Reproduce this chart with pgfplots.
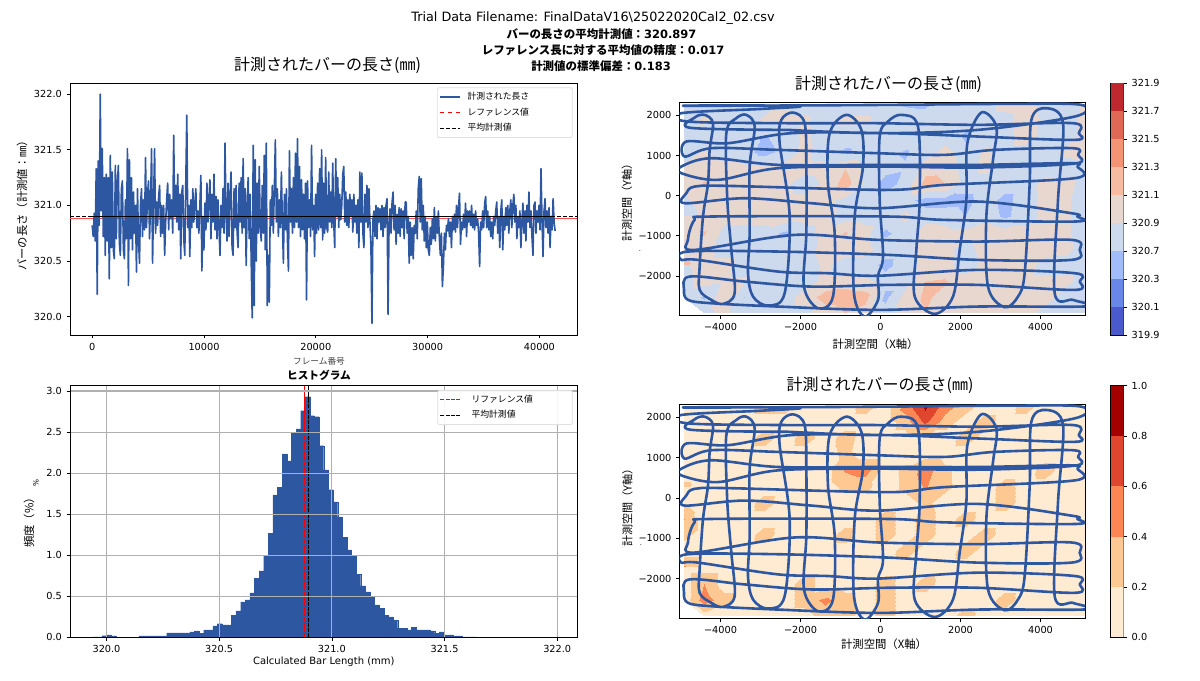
\documentclass[border=0pt]{standalone}
\usepackage{fontspec}
\setmainfont{DejaVu Sans}
\newfontfamily\jp{Noto Sans CJK JP}
\usepackage{pgfplots}
\pgfplotsset{compat=1.18}
\definecolor{barblue}{HTML}{2E57A2}
\definecolor{gridg}{HTML}{B0B0B0}
\pgfplotsset{
  colormap={cw}{rgb255=(74,90,205) rgb255=(105,135,232) rgb255=(162,187,250) rgb255=(205,217,236) rgb255=(232,215,207) rgb255=(246,187,160) rgb255=(244,148,117) rgb255=(224,105,85) rgb255=(192,40,47)},
  colormap={orrd}{rgb255=(254,235,210) rgb255=(253,200,145) rgb255=(252,135,85) rgb255=(224,70,45) rgb255=(165,0,0)},
  base/.style={
    scale only axis, anchor=south west,
    tick align=outside, major tick length=2.6pt,
    tick style={black,line width=.5pt},
    axis line style={line width=.7pt},
    ticklabel style={font=\fontsize{7.3}{8}\selectfont},
    /pgf/number format/assume math mode=true,
    scaled ticks=false,
    /pgf/number format/1000 sep={},
    xtick pos=bottom, ytick pos=left,
    clip=true,
  },
  leg/.style={
    legend cell align=left,
    legend image code/.code={\draw[##1] (0pt,0pt) -- (15pt,0pt);},
    legend style={font=\fontsize{6.6}{7}\selectfont\jp, draw=black!12, rounded corners=1pt,
      fill=white, fill opacity=.9, text opacity=1, at={(rel axis cs:0.9905,0.983)}, anchor=north east,
      row sep=.6pt, inner sep=1.5pt, line width=.6pt},
  },
  heat/.style={
    base, width=304.3pt,
    xmin=-5022, xmax=5120, ymin=-2982, ymax=2319,
    xtick={-4000,-2000,0,2000,4000}, xticklabels={−4000,−2000,0,2000,4000},
    ytick={-2000,-1000,0,1000,2000}, yticklabels={−2000,−1000,0,1000,2000},
  },
  cbar/.style={
    scale only axis, anchor=south west, width=9.75pt,
    xmin=0, xmax=1, ymin=0, xtick=\empty, ytick pos=right, yticklabel pos=right,
    tick align=outside, major tick length=2.6pt, tick style={black,line width=.5pt},
    axis line style={line width=.6pt},
    ticklabel style={font=\fontsize{7.3}{8}\selectfont},
    /pgf/number format/assume math mode=true,
  },
  traj/.style={barblue, line width=1.95pt, smooth, tension=.55, line join=round},
}
% measured path of the wand in the capture volume
\newcommand{\trajpath}{
(-2312,1639)(-4750,1690)(-4640,1950)(-4396,2013)(-4188,1805)(-4271,1140)(-4312,309)(-4437,-522)(-4521,-1768)(-4521,-2350)(-4229,-2599)(-3937,-2699)(-3646,-2433)(-3729,-1353)(-3829,-106)(-3854,1556)(-3604,1930)(-3354,2013)(-3146,1722)(-3271,725)(-3271,-937)(-3312,-1934)(-3187,-2516)(-2812,-2740)(-2396,-2433)(-2271,-522)(-2521,1307)(-2479,1888)(-2187,2071)(-1896,1805)(-1854,725)(-1854,-937)(-1913,-2267)(-1563,-2807)(-1188,-2516)(-1146,-937)(-1313,309)(-1271,1556)(-854,2013)(-479,1639)(-438,725)(-646,-522)(-663,-2433)(-396,-3015)(-62,-2599)(-62,-1997)(63,-1519)(-21,-106)(-21,1473)(187,1847)(521,2013)(937,1722)(979,-106)(896,-1353)(854,-2516)(1354,-2948)(1812,-2516)(1979,-1353)(2146,-106)(2171,1307)(2521,2071)(2896,1722)(2812,891)(2646,-522)(2687,-2267)(3104,-2782)(3437,-2516)(3604,-1934)(3729,309)(3771,1888)(4146,2179)(4563,1805)(4437,-106)(4354,-2433)(4812,-2599)(5150,-2760)
(2437,-2765)(-62,-2848)(-2563,-2765)(-4229,-2682)(-4812,-2599)(-4912,-2350)(-4771,-2017)(-3396,-2142)(-1729,-2267)(188,-2225)(2437,-2225)(4854,-2350)(4979,-2142)(4854,-1934)
(2437,-1851)(-62,-1997)(-1313,-1934)(-2563,-1893)(-4562,-1602)(-4979,-1602)(-4812,-1394)(-2563,-1394)(188,-1477)(2437,-1602)(4771,-1602)(4979,-1353)(4771,-1103)
(2437,-1145)(-62,-1103)(-2146,-979)(-4646,-1353)(-4812,-1103)(-4646,-605)(-4229,-521)(188,-521)(1604,-605)(4854,-646)(4921,-521)(4771,-438)(2437,-148)(-62,-314)(-1729,-189)(-3396,-65)(-4896,-189)(-4854,60)(-4646,226)(-3812,243)(188,143)(1604,268)(4854,434)(4921,725)(4771,808)(2437,767)(-62,767)(-2563,767)(-4229,933)(-4979,725)(-4979,559)(-4062,393)(-2563,683)(-62,725)(2437,700)(4854,800)(4937,1016)(4812,1182)(2854,1140)(1604,1016)(-62,1057)(-2563,1140)(-4229,1182)(-4896,974)(-4854,1348)(-3812,1307)(-2229,1556)(188,1556)(2437,1473)(4854,1390)(4954,1556)(4812,1805)(2437,1764)(-62,1805)(-2312,1805)(-4812,1847)(-4979,2055)(-3000,2160)(-2000,2225)(-3500,2250)(-4938,2240)(-2563,2245)(188,2262)(3271,2287)(5021,2262)(4854,1971)(2437,1639)(-62,1556)(-2312,1639)
}
\begin{document}
\begin{tikzpicture}
\path[use as bounding box] (0,0) rectangle (900pt,510.75pt);

% frame series
\begin{axis}[base, at={(52.5pt,259.5pt)}, width=380.6pt, height=189pt,
  xmin=-1985, xmax=43400, ymin=319.835, ymax=322.1,
  xtick={0,10000,20000,30000,40000},
  ytick={320,320.5,321,321.5,322},
  yticklabel style={/pgf/number format/fixed, /pgf/number format/precision=1, /pgf/number format/fixed zerofill},
  leg]
\addplot[red!70!white, line width=.5pt, forget plot] coordinates {(-1985,320.88)(43400,320.88)};
\addplot[barblue, line width=1.2pt, line join=round] table[row sep=\\, header=false, x expr=\coordindex*90, y index=0]{
320.82\\320.72\\320.93\\320.68\\321.33\\320.20\\321.40\\320.82\\322.00\\320.95\\321.51\\320.72\\321.25\\320.55\\321.28\\320.68\\321.25\\320.34\\321.45\\320.62\\
321.30\\320.60\\320.52\\321.36\\320.70\\321.20\\321.36\\320.66\\320.55\\321.15\\321.22\\320.60\\320.52\\321.05\\320.70\\321.51\\320.28\\321.41\\320.70\\321.25\\
320.60\\321.12\\320.75\\321.00\\320.40\\321.15\\320.70\\320.48\\321.00\\321.15\\320.72\\321.05\\320.78\\321.43\\320.80\\321.10\\321.22\\320.70\\321.02\\321.51\\
320.48\\321.05\\321.51\\320.75\\321.03\\320.82\\321.08\\321.18\\320.72\\321.00\\320.75\\321.00\\320.55\\320.85\\321.05\\321.20\\320.78\\321.10\\320.88\\321.05\\
320.75\\321.63\\320.90\\321.18\\320.85\\321.28\\320.78\\321.10\\320.52\\321.12\\321.18\\320.70\\320.55\\321.20\\321.81\\320.80\\321.00\\320.54\\321.05\\320.80\\
321.15\\320.85\\321.02\\321.15\\320.80\\320.95\\320.75\\321.00\\321.27\\320.41\\320.90\\320.60\\321.02\\320.78\\321.20\\320.85\\321.05\\321.23\\320.70\\321.10\\
320.85\\321.28\\320.78\\321.08\\320.70\\321.05\\320.80\\320.55\\321.00\\320.80\\321.15\\320.75\\321.56\\320.90\\320.68\\321.20\\320.72\\321.10\\321.30\\320.62\\
320.55\\321.15\\320.80\\321.18\\320.75\\320.62\\321.20\\320.85\\321.25\\320.75\\321.42\\320.80\\321.15\\320.46\\321.00\\321.25\\320.70\\321.10\\320.50\\319.99\\
321.54\\320.10\\321.41\\320.50\\321.20\\320.75\\321.35\\320.80\\320.68\\321.18\\320.75\\321.45\\320.60\\321.56\\320.10\\320.55\\320.13\\321.05\\320.82\\321.18\\
320.75\\321.15\\321.59\\320.85\\321.15\\320.72\\321.05\\320.80\\321.30\\320.85\\320.48\\321.10\\320.78\\321.15\\320.70\\320.41\\321.49\\320.85\\321.15\\320.75\\
321.25\\320.80\\321.47\\320.85\\321.60\\320.80\\321.35\\320.72\\321.23\\320.78\\321.10\\320.70\\321.20\\320.15\\321.22\\320.80\\321.05\\320.72\\321.54\\320.78\\
321.00\\320.54\\321.10\\320.75\\321.20\\320.78\\321.33\\320.80\\321.50\\320.69\\321.20\\320.75\\321.43\\320.80\\320.76\\321.30\\320.85\\321.12\\320.80\\321.38\\
320.85\\320.62\\321.42\\320.90\\321.25\\320.80\\321.10\\320.87\\321.00\\321.28\\321.35\\320.85\\321.12\\320.82\\321.05\\320.80\\321.10\\320.90\\321.05\\320.76\\
321.10\\320.85\\321.00\\320.75\\321.05\\320.62\\321.30\\320.85\\321.29\\320.75\\320.62\\321.10\\320.85\\321.18\\320.80\\321.15\\320.85\\320.62\\319.94\\320.88\\
320.95\\320.72\\321.00\\320.70\\320.98\\320.85\\320.97\\320.78\\321.00\\320.72\\320.98\\320.80\\321.00\\321.06\\320.02\\320.82\\320.97\\320.75\\321.03\\321.12\\
320.78\\321.00\\320.65\\320.92\\320.75\\320.98\\320.72\\320.97\\320.80\\320.95\\320.70\\321.03\\321.03\\320.75\\320.90\\320.48\\320.85\\320.55\\320.80\\320.52\\
320.82\\320.75\\320.95\\320.70\\321.15\\321.26\\320.85\\321.24\\320.78\\321.00\\320.68\\320.90\\320.62\\320.85\\320.60\\320.55\\320.80\\320.65\\320.88\\320.70\\
320.98\\320.68\\320.90\\320.75\\320.95\\320.70\\320.55\\320.75\\320.27\\320.45\\320.75\\320.60\\320.82\\320.77\\320.88\\320.72\\320.85\\320.62\\320.90\\320.78\\
320.92\\320.76\\321.00\\320.80\\320.98\\321.11\\320.65\\320.85\\320.78\\320.92\\320.80\\321.02\\320.72\\320.95\\320.85\\320.95\\320.82\\321.00\\320.80\\320.92\\
320.78\\320.95\\320.82\\320.88\\320.75\\320.45\\320.85\\320.78\\320.95\\320.80\\321.02\\321.08\\320.80\\320.95\\320.78\\320.90\\320.72\\320.85\\320.70\\320.90\\
320.82\\320.95\\321.03\\320.75\\320.90\\320.62\\320.95\\321.05\\320.60\\320.90\\320.78\\320.98\\320.82\\321.00\\320.75\\320.95\\321.05\\320.80\\321.00\\321.10\\
320.85\\321.00\\320.70\\320.90\\320.80\\320.95\\320.62\\320.85\\321.02\\320.75\\320.95\\320.68\\321.00\\320.85\\321.12\\320.80\\320.95\\320.72\\320.55\\321.00\\
321.03\\320.75\\320.95\\320.85\\321.00\\320.78\\321.33\\320.85\\320.54\\320.95\\321.06\\320.80\\320.95\\320.75\\320.98\\320.62\\320.90\\320.78\\321.06\\320.85\\320.77\\
};
\addlegendentry{\makebox[78pt][l]{\hspace{3pt}計測された長さ}}
\addlegendimage{red, dashed, line width=.7pt}
\addlegendentry{\makebox[78pt][l]{\hspace{3pt}レファレンス値}}
\addplot[black, line width=.7pt, forget plot] coordinates {(0,320.897)(41400,320.897)};
\addplot[black, dash pattern=on 3pt off 1.4pt, line width=.7pt] coordinates {(-1985,320.897)(43400,320.897)};
\addlegendentry{\makebox[78pt][l]{\hspace{3pt}平均計測値}}
\end{axis}

% histogram
\begin{axis}[base, at={(52.5pt,32.8pt)}, width=380.6pt, height=188.7pt,
  xmin=319.838, xmax=322.09, ymin=0, ymax=3.065,
  xtick={320,320.5,321,321.5,322}, ytick={0,0.5,1,1.5,2,2.5,3},
  ticklabel style={/pgf/number format/fixed, /pgf/number format/precision=1, /pgf/number format/fixed zerofill},
  grid=major, grid style={gridg, line width=.8pt},
  axis on top, leg, legend style={at={(rel axis cs:0.9905,0.983)}}]
\addplot[ybar interval, fill=barblue, draw=barblue, line width=.1pt, forget plot] coordinates {
(319.939,.004)(319.9595,.004)(319.980,.02)(320.0005,.03)(320.021,.018)(320.0415,.003)(320.062,.003)(320.0825,.003)(320.103,.003)(320.1235,.003)
(320.144,.016)(320.1645,.016)(320.185,.016)(320.2055,.016)(320.226,.016)(320.2465,.016)(320.267,.053)(320.2875,.053)(320.308,.053)(320.3285,.053)
(320.349,.053)(320.3695,.065)(320.390,.077)(320.4105,.05)(320.431,.09)(320.4515,.09)(320.472,.14)(320.4925,.165)(320.513,.15)(320.5335,.15)
(320.554,.27)(320.5745,.32)(320.595,.43)(320.6155,.455)(320.636,.54)(320.6565,.72)(320.677,.81)(320.6975,.99)(320.718,1.27)(320.7385,1.735)
(320.759,1.83)(320.7795,2.235)(320.800,2.15)(320.8205,2.5)(320.841,2.54)(320.8615,2.76)(320.882,2.93)(320.9025,2.70)(320.923,2.687)(320.9435,2.333)
(320.964,2.04)(320.9845,1.797)(321.005,1.65)(321.0255,1.467)(321.046,1.22)(321.0665,1.065)(321.087,.99)(321.1075,.77)(321.128,.626)(321.1485,.553)
(321.169,.5)(321.1895,.394)(321.210,.354)(321.2305,.27)(321.251,.248)(321.2715,.207)(321.292,.11)(321.3125,.11)(321.333,.09)(321.3535,.12)
(321.374,.09)(321.3945,.09)(321.415,.09)(321.4355,.077)(321.456,.05)(321.4765,.065)(321.497,.028)(321.5175,.028)(321.538,.016)(321.5585,.016)
(321.579,.005)(321.5995,.005)(321.620,.005)(321.6405,.002)(321.661,.002)(321.6815,.002)(321.702,.002)(321.7225,.002)(321.743,.002)(321.7635,.002)
(321.784,.002)(321.8045,.002)(321.825,.002)(321.8455,.002)(321.866,.002)(321.8865,.002)(321.907,.002)(321.9275,.002)(321.948,.002)(321.9685,.002)
(321.989,.002)(322.0095,.002)
};
\addplot[red, line width=.8pt, forget plot] coordinates {(320.88,2.5)(320.88,3.065)};
\addplot[red, dash pattern=on 3pt off .9pt, line width=.8pt] coordinates {(320.88,0)(320.88,2.5)};
\addlegendentry{\makebox[78pt][l]{\hspace{6pt}リファレンス値}}
\addplot[black, line width=.8pt, forget plot] coordinates {(320.897,2.9)(320.897,3.065)};
\addplot[black, dash pattern=on 3pt off .9pt, line width=.8pt] coordinates {(320.897,0)(320.897,2.9)};
\addlegendentry{\makebox[78pt][l]{\hspace{6pt}平均計測値}}
\end{axis}

% length map
\begin{axis}[heat, at={(509.7pt,274.3pt)}, height=159.5pt, point meta min=0, point meta max=9, colormap name=cw]
\addplot[surf, shader=interp, colormap access=piecewise constant, mesh/cols=21, point meta=\thisrowno{0}]
 table[row sep=\\, header=false, x expr={-4900+500*mod(\coordindex,21)}, y expr={2280-400*floor(\coordindex/21)}]{
3.5\\3.5\\3.5\\3.5\\3.5\\4.2\\3.5\\3.5\\3.5\\3.5\\3.5\\2.9\\2.8\\3.5\\3.5\\3.5\\4.5\\4.7\\3.5\\3.5\\4.2\\
3.5\\4.2\\3.5\\3.5\\4.2\\4.2\\4.2\\3.5\\4.3\\4.2\\3.5\\3.5\\3.5\\3.5\\3.5\\3.5\\3.5\\4.8\\3.6\\3.5\\4.4\\
3.5\\3.5\\3.5\\3.5\\2.9\\3.5\\4.2\\3.5\\3.5\\3.5\\3.5\\3.5\\3.5\\3.5\\2.8\\3.5\\3.5\\4.6\\3.6\\3.5\\4.4\\
3.5\\4.2\\3.5\\3.4\\2.6\\3.4\\4.3\\3.5\\2.8\\3.4\\3.5\\2.9\\3.5\\4.4\\3.4\\4.2\\3.6\\3.5\\3.5\\4.2\\4.4\\
4.2\\4.6\\4.4\\4.3\\4.3\\4.3\\4.3\\4.5\\5.0\\3.6\\3.3\\3.1\\4.6\\4.7\\3.5\\4.3\\3.6\\3.5\\3.5\\3.5\\3.6\\
4.4\\5.1\\4.4\\4.4\\4.3\\4.2\\3.5\\4.2\\5.5\\3.8\\2.6\\3.3\\5.4\\5.0\\3.5\\3.5\\3.4\\3.5\\4.4\\4.4\\3.6\\
4.2\\4.4\\4.4\\4.4\\4.5\\4.4\\4.3\\4.3\\3.7\\3.5\\3.5\\3.4\\2.6\\2.6\\2.7\\3.4\\2.7\\3.5\\4.4\\4.2\\3.5\\
3.5\\4.2\\4.4\\4.5\\4.5\\4.8\\4.4\\4.4\\3.6\\3.5\\3.5\\4.3\\3.5\\3.5\\3.0\\3.5\\2.8\\3.5\\4.3\\4.2\\3.5\\
4.6\\5.1\\3.6\\3.5\\3.5\\2.8\\3.6\\4.3\\5.1\\4.4\\2.8\\3.4\\4.6\\4.4\\4.3\\5.0\\4.5\\4.4\\4.3\\4.2\\3.5\\
4.4\\4.5\\3.5\\3.5\\3.5\\3.5\\3.5\\4.4\\4.4\\4.4\\3.5\\3.5\\4.4\\4.4\\3.5\\4.5\\4.6\\4.4\\4.4\\4.3\\3.5\\
5.2\\4.5\\4.5\\3.5\\3.5\\3.5\\3.5\\4.2\\3.5\\3.5\\2.7\\3.5\\4.3\\4.4\\3.3\\4.4\\4.4\\4.4\\3.6\\3.6\\3.6\\
3.8\\4.3\\4.2\\4.2\\3.5\\3.5\\3.5\\4.3\\4.6\\4.3\\3.5\\3.5\\5.0\\5.1\\4.5\\4.4\\4.4\\4.3\\4.3\\4.3\\3.5\\
3.7\\2.9\\5.0\\3.0\\3.5\\3.5\\4.5\\5.4\\5.5\\5.4\\2.7\\4.4\\5.2\\4.6\\4.4\\4.4\\5.0\\4.5\\4.4\\3.5\\3.5\\
3.5\\3.5\\4.3\\3.4\\3.5\\3.5\\3.5\\4.5\\5.0\\4.5\\3.5\\4.4\\5.0\\4.4\\4.3\\4.3\\4.4\\4.3\\3.6\\3.5\\3.5\\
};
\addplot[traj] coordinates {\trajpath};
\end{axis}

% deviation map
\begin{axis}[heat, at={(509.7pt,47pt)}, height=160.5pt, point meta min=0, point meta max=1, colormap name=orrd]
\addplot[surf, shader=interp, colormap access=piecewise constant, mesh/cols=21, point meta=\thisrowno{0}]
 table[row sep=\\, header=false, x expr={-4900+500*mod(\coordindex,21)}, y expr={2280-400*floor(\coordindex/21)}]{
.1\\.1\\.1\\.1\\.3\\.3\\.1\\.1\\.1\\.3\\.1\\.5\\.85\\.5\\.3\\.1\\.1\\.3\\.1\\.1\\.1\\
.1\\.1\\.1\\.1\\.1\\.1\\.1\\.1\\.1\\.1\\.1\\.3\\.65\\.3\\.1\\.3\\.1\\.1\\.1\\.1\\.1\\
.1\\.1\\.1\\.1\\.3\\.1\\.3\\.1\\.3\\.1\\.1\\.1\\.1\\.1\\.3\\.1\\.1\\.1\\.1\\.1\\.1\\
.1\\.1\\.1\\.1\\.1\\.1\\.1\\.1\\.25\\.1\\.1\\.1\\.1\\.1\\.1\\.1\\.1\\.1\\.1\\.1\\.1\\
.1\\.1\\.1\\.1\\.1\\.1\\.1\\.1\\.42\\.5\\.1\\.25\\.5\\.25\\.1\\.1\\.1\\.1\\.3\\.1\\.1\\
.25\\.1\\.1\\.1\\.1\\.1\\.1\\.1\\.25\\.25\\.1\\.25\\.42\\.25\\.1\\.1\\.3\\.1\\.1\\.1\\.1\\
.1\\.1\\.1\\.1\\.3\\.1\\.1\\.1\\.1\\.1\\.1\\.1\\.25\\.1\\.1\\.1\\.3\\.1\\.1\\.1\\.1\\
.3\\.1\\.1\\.1\\.1\\.1\\.1\\.1\\.1\\.1\\.3\\.1\\.3\\.1\\.3\\.1\\.1\\.1\\.1\\.1\\.1\\
.4\\.1\\.1\\.1\\.3\\.1\\.1\\.1\\.3\\.1\\.3\\.1\\.3\\.1\\.1\\.3\\.1\\.1\\.1\\.1\\.1\\
.1\\.1\\.1\\.1\\.1\\.1\\.1\\.1\\.1\\.1\\.1\\.3\\.1\\.1\\.3\\.1\\.1\\.1\\.1\\.1\\.1\\
.42\\.1\\.1\\.1\\.1\\.1\\.1\\.1\\.1\\.1\\.1\\.1\\.1\\.1\\.1\\.1\\.1\\.1\\.1\\.1\\.1\\
.1\\.4\\.1\\.1\\.1\\.1\\.3\\.1\\.1\\.1\\.3\\.1\\.3\\.1\\.1\\.1\\.1\\.1\\.1\\.1\\.15\\
.1\\.5\\.3\\.1\\.1\\.1\\.3\\.45\\.3\\.1\\.3\\.1\\.1\\.1\\.1\\.1\\.3\\.1\\.1\\.1\\.1\\
.1\\.1\\.1\\.1\\.1\\.1\\.1\\.3\\.3\\.1\\.3\\.1\\.1\\.1\\.3\\.1\\.1\\.1\\.1\\.1\\.1\\
};
\addplot[traj] coordinates {\trajpath};
\end{axis}

% colour bars
\begin{axis}[cbar, at={(832.9pt,259.5pt)}, height=189pt, ymax=9,
  ytick={0,1,2,3,4,5,6,7,8,9},
  yticklabels={319.9,320.1,320.3,320.7,320.9,321.1,321.3,321.5,321.7,321.9}]
\addplot[fill={rgb,255:red,74;green,90;blue,205}, draw=none] coordinates {(0,0)(1,0)(1,1)(0,1)} --cycle;
\addplot[fill={rgb,255:red,105;green,135;blue,232}, draw=none] coordinates {(0,1)(1,1)(1,2)(0,2)} --cycle;
\addplot[fill={rgb,255:red,162;green,187;blue,250}, draw=none] coordinates {(0,2)(1,2)(1,3)(0,3)} --cycle;
\addplot[fill={rgb,255:red,205;green,217;blue,236}, draw=none] coordinates {(0,3)(1,3)(1,4)(0,4)} --cycle;
\addplot[fill={rgb,255:red,232;green,215;blue,207}, draw=none] coordinates {(0,4)(1,4)(1,5)(0,5)} --cycle;
\addplot[fill={rgb,255:red,246;green,187;blue,160}, draw=none] coordinates {(0,5)(1,5)(1,6)(0,6)} --cycle;
\addplot[fill={rgb,255:red,244;green,148;blue,117}, draw=none] coordinates {(0,6)(1,6)(1,7)(0,7)} --cycle;
\addplot[fill={rgb,255:red,224;green,105;blue,85}, draw=none] coordinates {(0,7)(1,7)(1,8)(0,8)} --cycle;
\addplot[fill={rgb,255:red,192;green,40;blue,47}, draw=none] coordinates {(0,8)(1,8)(1,9)(0,9)} --cycle;
\end{axis}
\begin{axis}[cbar, at={(832.9pt,32.8pt)}, height=188.7pt, ymax=5,
  ytick={0,1,2,3,4,5}, yticklabels={0.0,0.2,0.4,0.6,0.8,1.0}]
\addplot[fill={rgb,255:red,254;green,235;blue,210}, draw=none] coordinates {(0,0)(1,0)(1,1)(0,1)} --cycle;
\addplot[fill={rgb,255:red,253;green,200;blue,145}, draw=none] coordinates {(0,1)(1,1)(1,2)(0,2)} --cycle;
\addplot[fill={rgb,255:red,252;green,135;blue,85}, draw=none] coordinates {(0,2)(1,2)(1,3)(0,3)} --cycle;
\addplot[fill={rgb,255:red,224;green,70;blue,45}, draw=none] coordinates {(0,3)(1,3)(1,4)(0,4)} --cycle;
\addplot[fill={rgb,255:red,165;green,0;blue,0}, draw=none] coordinates {(0,4)(1,4)(1,5)(0,5)} --cycle;
\end{axis}

% titles and labels, positions in reference pixels (y from bottom)
\begin{scope}[x=.75pt, y=.75pt]
\node[font=\fontsize{9.6}{10}\selectfont] at (593,663) {Trial Data Filename: FinalDataV16\textbackslash 25022020Cal2\_02.csv};
\node[font=\fontsize{8.6}{9}\selectfont\jp\bfseries] at (601.5,647) {バーの長さの平均計測値：{\rmfamily\bfseries 320.897}};
\node[font=\fontsize{8.6}{9}\selectfont\jp\bfseries] at (603,631) {レファレンス長に対する平均値の精度：{\rmfamily\bfseries 0.017}};
\node[font=\fontsize{8.6}{9}\selectfont\jp\bfseries] at (601,615) {計測値の標準偏差：{\rmfamily\bfseries 0.183}};
\node[font=\fontsize{12}{13}\selectfont\jp] at (327.6,616) {計測されたバーの長さ(㎜)};
\node[font=\fontsize{12}{13}\selectfont\jp] at (888.5,597) {計測されたバーの長さ(㎜)};
\node[font=\fontsize{12}{13}\selectfont\jp] at (880,295.3) {計測されたバーの長さ(㎜)};
\node[font=\fontsize{6.5}{7}\selectfont\jp, text=black!75] at (319,319.3) {フレーム番号};
\node[font=\fontsize{8}{9}\selectfont\jp\bfseries] at (319,305.3) {ヒストグラム};
\node[font=\fontsize{7.5}{8}\selectfont] at (323.8,19) {Calculated Bar Length (mm)};
\node[font=\fontsize{8.5}{9}\selectfont\jp, rotate=90] at (22,478) {バーの長さ（計測値：㎜）};
\node[font=\fontsize{8.5}{9}\selectfont\jp, rotate=90] at (29,161) {頻度（\%）};
\node[font=\fontsize{5.5}{6}\selectfont, rotate=90] at (36,198) {\%};
\node[font=\fontsize{8.3}{9}\selectfont\jp, rotate=90] at (627,481) {計測空間（Y軸）};
\node[font=\fontsize{8.3}{9}\selectfont\jp, rotate=90] at (627.5,176) {計測空間（Y軸）};
\node[font=\fontsize{8.5}{9}\selectfont\jp] at (875.5,337) {計測空間（X軸）};
\node[font=\fontsize{8.5}{9}\selectfont\jp] at (884,37) {計測空間（X軸）};
\node[font=\fontsize{5}{6}\selectfont] at (640,430) {.};
\node[font=\fontsize{5}{6}\selectfont] at (641,136) {.};
\end{scope}
\end{tikzpicture}
\end{document}
